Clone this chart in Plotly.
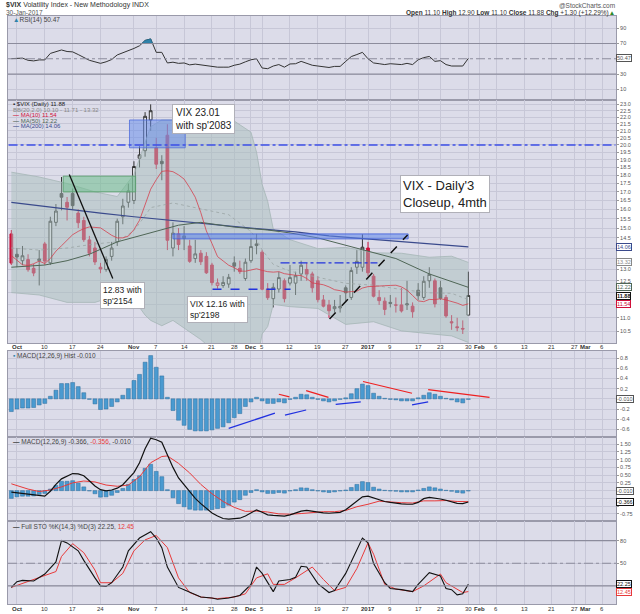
import numpy as np
import pandas as pd
import plotly.graph_objects as go

# trading calendar: x is a trading-day index (weekends / market holidays dropped)
HOLIDAYS = ['2016-11-24', '2016-12-26', '2017-01-02', '2017-01-16', '2017-02-20']
days = pd.bdate_range('2016-09-30', '2017-03-08')
days = days[~days.isin(pd.to_datetime(HOLIDAYS))]

tick_dates = ['2016-10-03', '2016-10-10', '2016-10-17', '2016-10-24', '2016-11-01', '2016-11-07',
              '2016-11-14', '2016-11-21', '2016-11-28', '2016-12-01', '2016-12-05', '2016-12-12',
              '2016-12-19', '2016-12-27', '2017-01-03', '2017-01-09', '2017-01-17', '2017-01-23',
              '2017-01-30', '2017-02-01', '2017-02-06', '2017-02-13', '2017-02-21', '2017-02-27',
              '2017-03-01', '2017-03-06']
tick_text = ['<b>Oct</b>', '10', '17', '24', '<b>Nov</b>', '7', '14', '21', '28', '<b>Dec</b>', '5',
             '12', '19', '27', '<b>2017</b>', '9', '17', '23', '30', '<b>Feb</b>', '6', '13', '21',
             '27', '<b>Mar</b>', '6']

# $VIX daily candles, 30-Sep-2016 .. 30-Jan-2017
opens = [14.70, 13.70, 13.40, 13.45, 13.05, 13.40, 14.20, 13.30, 15.30, 16.90,
         16.40, 16.90, 15.80, 15.40, 14.40, 14.00, 13.10, 13.00, 13.60, 14.30,
         15.60, 16.40, 16.50, 19.10, 19.60, 21.80, 19.80, 18.90, 20.68, 14.00,
         14.70, 14.60, 14.10, 13.50, 13.75, 13.60, 13.20, 12.30, 12.30, 12.36,
         13.30, 13.05, 12.60, 13.40, 14.20, 13.80, 12.15, 11.75, 12.15, 12.50,
         12.40, 12.40, 12.80, 13.00, 12.80, 12.50, 11.70, 11.50, 11.35, 11.38,
         12.20, 11.80, 13.10, 13.10, 14.00, 12.70, 11.80, 11.65, 11.60, 11.50,
         11.50, 11.50, 11.45, 12.10, 11.80, 12.50, 12.50, 12.20, 11.80, 10.85,
         10.66, 10.60, 11.10]
highs = [14.90, 14.00, 14.10, 13.70, 13.25, 13.90, 14.30, 15.60, 16.30, 17.90,
         16.70, 17.20, 16.00, 15.60, 14.60, 14.30, 13.30, 13.60, 14.30, 15.50,
         16.60, 17.50, 18.90, 19.90, 22.40, 23.01, 20.50, 19.30, 21.48, 15.30,
         15.00, 15.10, 14.40, 14.40, 13.90, 13.80, 13.30, 12.60, 12.70, 12.80,
         13.60, 13.40, 13.50, 14.50, 14.70, 13.90, 12.40, 12.40, 12.90, 12.60,
         13.20, 12.90, 13.40, 13.30, 12.90, 12.70, 11.90, 11.70, 11.70, 11.90,
         12.30, 13.10, 13.90, 14.68, 14.30, 12.80, 12.10, 11.80, 11.90, 11.80,
         12.20, 12.50, 11.60, 12.40, 12.70, 13.10, 12.60, 12.50, 11.90, 11.10,
         11.00, 10.90, 12.90]
lows = [13.20, 13.10, 13.20, 12.90, 12.70, 12.30, 13.20, 13.20, 15.10, 15.95,
        15.40, 16.00, 15.00, 14.30, 13.60, 13.20, 12.83, 12.90, 13.40, 14.10,
        15.20, 16.10, 16.30, 18.50, 19.20, 21.00, 18.40, 17.70, 13.90, 13.60,
        13.90, 13.90, 13.30, 13.30, 13.20, 12.80, 12.30, 12.16, 12.20, 12.20,
        12.90, 12.80, 12.50, 13.30, 13.70, 12.10, 11.70, 11.40, 12.00, 11.60,
        12.30, 11.90, 12.50, 12.50, 12.00, 11.60, 11.40, 11.00, 11.20, 11.20,
        11.60, 11.70, 12.80, 12.90, 12.70, 11.80, 11.50, 11.10, 11.40, 11.20,
        11.20, 11.30, 11.00, 11.70, 11.70, 12.20, 11.40, 11.70, 11.00, 10.55,
        10.50, 10.40, 11.10]
closes = [13.29, 13.57, 13.63, 12.99, 12.84, 13.48, 13.38, 15.36, 15.91, 16.69,
          16.12, 16.21, 15.28, 14.41, 13.75, 13.34, 13.02, 13.46, 14.00, 15.36,
          16.19, 17.06, 18.56, 19.32, 22.08, 22.51, 18.71, 18.74, 14.38, 14.74,
          14.17, 14.48, 13.37, 13.72, 13.35, 12.85, 12.42, 12.41, 12.43, 12.65,
          13.15, 12.90, 13.33, 14.07, 14.12, 12.14, 11.79, 12.22, 12.64, 11.75,
          12.64, 12.72, 13.19, 12.79, 12.20, 11.71, 11.45, 11.27, 11.43, 11.44,
          11.99, 12.95, 13.37, 14.04, 12.85, 11.85, 11.67, 11.32, 11.56, 11.49,
          11.26, 11.54, 11.23, 11.87, 12.48, 12.78, 11.54, 11.77, 11.07, 10.81,
          10.63, 10.58, 11.88]
prev_close = 14.02  # 29-Sep close, colours the first candle

# moving averages / bands
ma10 = [13.64, 13.44, 13.21, 13.18, 13.26, 13.38, 13.27, 13.50, 13.85, 14.11,
        14.40, 14.66, 14.83, 14.97, 15.06, 15.05, 15.01, 14.82, 14.63, 14.50,
        14.50, 14.59, 14.92, 15.41, 16.24, 17.16, 17.73, 18.25, 18.29, 18.23,
        18.03, 17.77, 17.25, 16.69, 15.82, 14.85, 14.22, 13.59, 13.39, 13.19,
        13.08, 12.93, 12.92, 12.96, 13.03, 12.96, 12.90, 12.88, 12.90, 12.81,
        12.76, 12.74, 12.73, 12.60, 12.41, 12.37, 12.33, 12.24, 12.12, 12.08,
        12.02, 12.04, 12.06, 12.19, 12.25, 12.26, 12.29, 12.29, 12.30, 12.31,
        12.24, 12.10, 11.88, 11.66, 11.63, 11.72, 11.71, 11.75, 11.70, 11.64,
        11.57, 11.48, 11.54]
ma50_i = [0, 6, 10, 14, 19, 25, 30, 34, 40, 46, 50, 55, 59, 63, 69, 75, 82]
ma50_v = [13.1, 13.2, 13.4, 13.7, 14.3, 14.75, 15.15, 15.3, 15.05, 14.9, 14.75, 14.5, 14.2,
          13.9, 13.5, 12.8, 12.22]
ma200_i = [0, 5, 11, 16, 22, 27, 34, 43, 51, 57, 66, 75, 82]
ma200_v = [16.4, 16.2, 16.0, 15.8, 15.6, 15.45, 15.25, 15.0, 14.8, 14.6, 14.4, 14.2, 14.06]
bb_i = [0, 5, 10, 15, 19, 22, 23, 24, 25, 27, 29, 34, 39, 43, 44, 45, 46, 47, 50, 55, 60, 65,
        70, 75, 79, 82]
bb_up = [18.2, 17.9, 17.5, 17.0, 16.73, 18.05, 19.1, 20.2, 21.3, 21.8, 21.8, 21.8, 22.0, 20.9,
         19.5, 17.45, 16.45, 14.95, 14.41, 13.97, 14.03, 13.77, 13.75, 13.56, 13.61, 13.32]
bb_lo = [12.0, 11.9, 11.6, 11.6, 11.88, 11.7, 11.4, 11.1, 10.9, 10.7, 10.9, 10.2, 9.4, 8.8,
         9.4, 10.4, 10.67, 11.52, 11.43, 11.36, 10.75, 10.85, 10.51, 10.42, 10.33, 10.10]
ma20_i = [0, 5, 10, 15, 19, 22, 24, 25, 29, 34, 39, 43, 44, 45, 46, 47, 50, 55, 60, 65, 70, 75,
          79, 82]
ma20_v = [14.0, 13.9, 14.0, 14.2, 14.30, 14.87, 15.65, 16.10, 16.36, 16.03, 15.71, 14.82, 14.43,
          13.91, 13.56, 13.23, 12.92, 12.66, 12.39, 12.31, 12.13, 11.99, 11.97, 11.71]

# RSI(14)
rsi = [50.2, 50.5, 50.8, 48.0, 47.2, 48.5, 48.5, 57.0, 59.5, 61.5,
       59.5, 59.0, 55.5, 52.0, 48.0, 46.0, 44.0, 46.0, 49.0, 55.0,
       57.5, 60.0, 63.5, 67.0, 74.0, 76.0, 58.4, 58.4, 44.5, 45.5,
       44.0, 44.5, 42.0, 43.0, 42.0, 40.3, 39.2, 39.0, 39.0, 39.0,
       41.5, 43.0, 46.0, 48.7, 50.0, 37.9, 37.0, 40.5, 42.4, 39.0,
       43.2, 43.5, 46.6, 44.5, 41.5, 40.5, 39.7, 38.6, 40.0, 40.0,
       46.6, 52.9, 55.5, 58.4, 50.0, 44.5, 43.5, 42.4, 43.5, 43.2,
       42.4, 44.0, 42.4, 48.7, 51.5, 53.0, 46.6, 47.5, 42.4, 40.5,
       40.2, 40.5, 50.47]

# MACD(12,26,9)
macd_hist = [-0.25, -0.20, -0.18, -0.18, -0.17, -0.12, -0.09, 0.05, 0.17, 0.30,
             0.30, 0.32, 0.24, 0.12, -0.01, -0.10, -0.21, -0.20, -0.15, -0.06,
             0.07, 0.20, 0.36, 0.48, 0.72, 0.85, 0.62, 0.45, 0.03, -0.23,
             -0.42, -0.52, -0.60, -0.63, -0.63, -0.63, -0.61, -0.58, -0.55, -0.47,
             -0.37, -0.29, -0.15, -0.06, 0.03, -0.04, -0.09, -0.09, -0.06, -0.08,
             -0.01, 0.03, 0.09, 0.08, 0.03, -0.01, -0.04, -0.06, -0.04, -0.01,
             0.02, 0.10, 0.20, 0.29, 0.26, 0.11, 0.05, 0.01, -0.01, -0.02,
             -0.04, -0.04, -0.04, 0.02, 0.07, 0.12, 0.09, 0.05, 0.01, -0.02,
             -0.06, -0.08, -0.01]
macd_i = [0, 2, 4, 6, 7, 8, 9, 11, 12, 13, 14, 15, 16, 17, 18, 19, 20, 21, 22, 23, 24, 25, 26,
          27, 28, 29, 30, 31, 32, 33, 34, 35, 36, 37, 38, 39, 40, 41, 42, 43, 44, 45, 46, 47, 48,
          49, 50, 51, 52, 53, 54, 55, 56, 57, 58, 59, 60, 61, 62, 63, 64, 65, 66, 67, 68, 69, 70,
          71, 72, 73, 74, 75, 76, 77, 78, 79, 80, 81, 82]
macd_v = [-0.05, -0.09, -0.12, -0.18, -0.02, 0.20, 0.38, 0.55, 0.54, 0.48, 0.32, 0.15, 0.03,
          -0.01, 0.02, 0.08, 0.19, 0.38, 0.58, 0.90, 1.35, 1.69, 1.64, 1.56, 1.15, 0.75, 0.41,
          0.18, -0.03, -0.25, -0.42, -0.58, -0.72, -0.82, -0.90, -0.92, -0.91, -0.89, -0.82,
          -0.72, -0.62, -0.70, -0.78, -0.80, -0.81, -0.82, -0.78, -0.72, -0.66, -0.64, -0.67,
          -0.70, -0.72, -0.73, -0.72, -0.70, -0.62, -0.48, -0.32, -0.20, -0.18, -0.24, -0.29,
          -0.35, -0.38, -0.41, -0.43, -0.44, -0.44, -0.38, -0.26, -0.22, -0.24, -0.27, -0.31,
          -0.36, -0.41, -0.42, -0.366]
sig_i = [0, 3, 5, 7, 9, 11, 13, 15, 17, 19, 21, 23, 25, 27, 28, 30, 32, 34, 36, 38, 40, 42, 44,
         46, 48, 50, 52, 54, 56, 58, 60, 62, 63, 64, 66, 68, 70, 72, 74, 76, 78, 80, 82]
sig_v = [0.22, 0.05, -0.03, 0.02, 0.12, 0.25, 0.31, 0.28, 0.18, 0.14, 0.18, 0.45, 0.90, 1.10,
         1.12, 0.88, 0.57, 0.20, -0.10, -0.35, -0.54, -0.67, -0.66, -0.69, -0.75, -0.76, -0.74,
         -0.70, -0.68, -0.68, -0.64, -0.52, -0.49, -0.44, -0.34, -0.37, -0.39, -0.40, -0.33,
         -0.33, -0.32, -0.35, -0.356]

# Full STO %K(14,3) %D(3)
stok_i = [0, 1, 2, 4, 6, 8, 9, 10, 12, 13, 15, 16, 17, 18, 20, 21, 23, 25, 26, 27, 28, 30, 31,
          34, 36, 37, 39, 41, 43, 44, 45, 47, 48, 50, 51, 52, 53, 55, 57, 58, 60, 62, 63, 64,
          65, 67, 68, 70, 72, 73, 75, 77, 78, 79, 80, 81, 82]
stok_v = [18, 25.6, 27.3, 26.4, 35.7, 51.7, 80, 77, 66.5, 53.8, 30.6, 20, 19.2, 24.2, 45, 66.5,
          83.4, 91.8, 83.4, 70.7, 45, 18, 15, 5.2, 4, 2.3, 4, 7.3, 22, 45, 36.6, 12.4, 26.4,
          28.5, 31.5, 46, 45, 23, 11.2, 13.7, 36.6, 66.5, 83.4, 77, 49.5, 24.2, 16.6, 15, 12.4,
          22, 37.5, 33.2, 16.6, 15, 8.2, 9.5, 22.25]
stod_i = [0, 3, 5, 8, 9, 11, 13, 15, 16, 18, 20, 22, 24, 26, 28, 30, 32, 34, 37, 40, 42, 44,
          46, 47, 49, 51, 54, 56, 58, 60, 62, 64, 65, 67, 69, 72, 74, 77, 78, 81, 82]
stod_v = [18, 25.6, 30.6, 39, 59, 76, 64, 41, 24.2, 24.2, 36.6, 66.5, 81, 86.8, 70.7, 30.6,
          11.2, 5.2, 3.1, 5.2, 9.5, 30.6, 36, 22, 22, 30.6, 45, 28.5, 13.7, 18, 43, 77, 62, 22,
          15.8, 12.4, 20, 35.7, 24.2, 11.2, 12.45]

main_ticks = [10.5, 11.0, 11.5, 12.0, 12.5, 13.0, 13.5, 14.0, 14.5, 15.0, 15.5, 16.0, 16.5,
              17.0, 17.5, 18.0, 18.5, 19.0, 19.5, 20.0, 20.5, 21.0, 21.5, 22.0, 22.5, 23.0]

# hand-drawn notes on the chart (trading-day index, value)
note_rects = [(9.3, 22.3, 17.0, 17.95, 'rgba(110,190,140,0.55)', 'rgba(90,160,110,0.9)'),
              (21.2, 31.2, 19.8, 21.8, 'rgba(95,135,235,0.5)', 'rgba(80,110,220,0.8)'),
              (29.0, 71.2, 14.45, 14.7, 'rgba(95,135,235,0.55)', 'rgba(70,100,220,0.9)')]
note_lines = [(-0.5, 20.0, 108.4, 20.0, '#3d4fe8', 'dashdot', 1.5),
              (10.4, 18.05, 18.2, 12.6, '#111111', 'solid', 1.3),
              (57.1, 10.95, 71.1, 14.65, '#111111', 'dash', 1.5),
              (48.3, 13.3, 65.7, 13.3, '#2233dd', 'dashdot', 1.3),
              (36.1, 12.14, 50.1, 12.14, '#2233dd', 'dash', 1.3)]
note_text = [(28.8, 23.0, "VIX 23.01<br>with sp'2083", 10),
             (15.9, 12.45, "12.83 with<br>sp'2154", 8.5),
             (31.6, 11.85, "VIX 12.16 with<br>sp'2198", 8.5),
             (69.8, 18.0, "VIX - Daily'3<br>Closeup, 4mth", 13)]
hist_red = [(48.0, 0.09, 49.9, 0.04), (52.9, 0.16, 56.9, 0.03), (63.1, 0.34, 71.9, 0.11),
            (74.8, 0.18, 85.8, 0.03)]
hist_blue = [(39.0, -0.58, 47.3, -0.28), (49.1, -0.32, 52.9, -0.22), (58.2, -0.11, 62.7, -0.06),
             (71.9, -0.12, 74.8, -0.06)]

# ------------------------------------------------------------------ styles
BG = '#dcdce9'
GRID = '#c7c7d7'
BORDER = '#9a9aaa'
RED = '#d0103a'
BLUE_BAR = '#4a9ad0'
W, H = 640, 614
ML, MR, MT, MB = 7, 20, 16, 10
PH = H - MT - MB
PW = W - ML - MR


def py(ypx):
    return (H - MB - ypx) / PH


def px(xpx):
    return (xpx - ML) / PW


idx = list(range(len(closes)))
N = len(days)
xr = [-0.6, N - 0.5]
tickvals = [days.get_loc(pd.Timestamp(d)) for d in tick_dates]

fig = go.Figure()

# ---- RSI panel
fig.add_trace(go.Scatter(x=idx, y=rsi, mode='lines', line=dict(color='#333', width=1),
                         xaxis='x', yaxis='y', hoverinfo='skip'))
# fill where RSI is above 70
fx, fy = [], []
for k in range(len(rsi) - 1):
    a, b = rsi[k], rsi[k + 1]
    if a >= 70:
        fx.append(idx[k]); fy.append(a)
    if (a - 70) * (b - 70) < 0:
        t = (70 - a) / (b - a)
        fx.append(idx[k] + t); fy.append(70)
if fx:
    fig.add_trace(go.Scatter(x=fx + [fx[0]], y=fy + [fy[0]], fill='toself', mode='lines',
                             line=dict(color='#1f6f95', width=0.8), fillcolor='#2e82aa',
                             xaxis='x', yaxis='y', hoverinfo='skip'))

# ---- main price panel
fig.add_trace(go.Scatter(x=bb_i, y=bb_lo, mode='lines', line=dict(color='#a6b6b6', width=0.8),
                         xaxis='x2', yaxis='y2', hoverinfo='skip'))
fig.add_trace(go.Scatter(x=bb_i, y=bb_up, mode='lines', line=dict(color='#a6b6b6', width=0.8),
                         fill='tonexty', fillcolor='rgba(168,190,188,0.5)',
                         xaxis='x2', yaxis='y2', hoverinfo='skip'))
fig.add_trace(go.Scatter(x=ma20_i, y=ma20_v, mode='lines',
                         line=dict(color='#9aa5a5', width=0.8, dash='dot'),
                         xaxis='x2', yaxis='y2', hoverinfo='skip'))

prev = [prev_close] + closes[:-1]
up = [i for i in idx if closes[i] >= prev[i]]
dn = [i for i in idx if closes[i] < prev[i]]
for grp, col in ((up, '#333333'), (dn, RED)):
    fig.add_trace(go.Candlestick(
        x=grp, open=[opens[i] for i in grp], high=[highs[i] for i in grp],
        low=[lows[i] for i in grp], close=[closes[i] for i in grp],
        increasing=dict(line=dict(color=col, width=1), fillcolor='rgba(242,242,248,0.9)'),
        decreasing=dict(line=dict(color=col, width=1), fillcolor=col),
        whiskerwidth=0, xaxis='x2', yaxis='y2', hoverinfo='skip'))

fig.add_trace(go.Scatter(x=ma200_i, y=ma200_v, mode='lines', line=dict(color='#3a4a8c', width=1.2),
                         xaxis='x2', yaxis='y2', hoverinfo='skip'))
fig.add_trace(go.Scatter(x=ma50_i, y=ma50_v, mode='lines', line=dict(color='#4f6656', width=1),
                         xaxis='x2', yaxis='y2', hoverinfo='skip'))
fig.add_trace(go.Scatter(x=idx, y=ma10, mode='lines', line=dict(color='#d4404e', width=0.8),
                         xaxis='x2', yaxis='y2', hoverinfo='skip'))

for i0, i1, v0, v1, fc, lc in note_rects:
    fig.add_trace(go.Scatter(x=[i0, i1, i1, i0, i0], y=[v0, v0, v1, v1, v0], mode='lines',
                             fill='toself', fillcolor=fc, line=dict(color=lc, width=1),
                             xaxis='x2', yaxis='y2', hoverinfo='skip'))
for x0, v0, x1, v1, col, dash, w in note_lines:
    fig.add_trace(go.Scatter(x=[x0, x1], y=[v0, v1], mode='lines',
                             line=dict(color=col, width=w, dash=dash),
                             xaxis='x2', yaxis='y2', hoverinfo='skip'))

# ---- MACD histogram panel
fig.add_trace(go.Bar(x=idx, y=macd_hist, width=0.7, xaxis='x3', yaxis='y3',
                     marker=dict(color=BLUE_BAR, line=dict(color='#2a6c9c', width=0.5)),
                     hoverinfo='skip'))
for lines, col in ((hist_red, '#ee2020'), (hist_blue, '#2030e0')):
    for x0, v0, x1, v1 in lines:
        fig.add_trace(go.Scatter(x=[x0, x1], y=[v0, v1], mode='lines',
                                 line=dict(color=col, width=1.2),
                                 xaxis='x3', yaxis='y3', hoverinfo='skip'))

# ---- MACD panel
fig.add_trace(go.Bar(x=idx, y=macd_hist, width=0.7, xaxis='x4', yaxis='y4',
                     marker=dict(color=BLUE_BAR, line=dict(color='#2a6c9c', width=0.5)),
                     hoverinfo='skip'))
fig.add_trace(go.Scatter(x=sig_i, y=sig_v, mode='lines', line=dict(color='#e83a3a', width=1),
                         xaxis='x4', yaxis='y4', hoverinfo='skip'))
fig.add_trace(go.Scatter(x=macd_i, y=macd_v, mode='lines', line=dict(color='#111', width=1.2),
                         xaxis='x4', yaxis='y4', hoverinfo='skip'))

# ---- Full stochastics panel
fig.add_trace(go.Scatter(x=stod_i, y=stod_v, mode='lines', line=dict(color='#e83a3a', width=1),
                         xaxis='x5', yaxis='y5', hoverinfo='skip'))
fig.add_trace(go.Scatter(x=stok_i, y=stok_v, mode='lines', line=dict(color='#111', width=1.1),
                         xaxis='x5', yaxis='y5', hoverinfo='skip'))

# ------------------------------------------------------------------ axes
dom = {
    'y': [py(100), 1.0],
    'y2': [py(343), py(100)],
    'y3': [py(437), py(351)],
    'y4': [py(521), py(437)],
    'y5': [0.0, py(521)],
}


def xax(anchor):
    d = dict(domain=[0, 1], anchor=anchor, range=xr, tickvals=tickvals,
             showticklabels=False, showgrid=True, gridcolor=GRID, gridwidth=1, zeroline=False,
             showline=True, linecolor=BORDER, mirror=True, ticks='',
             rangeslider=dict(visible=False))
    if anchor != 'y':
        d['matches'] = 'x'
    return d


def yax(anchor, rng, tv, tt, **kw):
    return dict(domain=dom[anchor], anchor=anchor.replace('y', 'x'), range=rng, side='right',
                tickvals=tv, ticktext=tt, showgrid=True, gridcolor=GRID, gridwidth=1,
                zeroline=False, showline=True, linecolor=BORDER, mirror=True, ticks='outside',
                ticklen=2, tickcolor='#999', tickfont=dict(size=5.5, color='#555'), **kw)


hide_main = {14.0, 13.5, 12.0, 11.5}
main_tt = ['' if v in hide_main else f'{v:.1f}' for v in main_ticks]

fig.update_layout(
    xaxis=xax('y'),
    xaxis2=xax('y2'),
    xaxis3=xax('y3'),
    xaxis4=xax('y4'),
    xaxis5=xax('y5'),
    yaxis=yax('y', [-4, 106], [10, 30, 70, 90], ['10', '30', '70', '90']),
    yaxis2=yax('y2', [np.log10(10.08), np.log10(23.36)], main_ticks, main_tt, type='log'),
    yaxis3=yax('y3', [-0.75, 0.94], [-0.6, -0.4, -0.2, 0, 0.2, 0.4, 0.6, 0.8],
               ['-0.6', '-0.4', '-0.2', '', '0.2', '0.4', '0.6', '0.8']),
    yaxis4=yax('y4', [-0.98, 1.73], [-0.75, -0.5, -0.25, 0, 0.25, 0.5, 0.75, 1.0, 1.25, 1.5],
               ['-0.75', '', '', '', '0.25', '0.50', '0.75', '1.00', '1.25', '1.50']),
    yaxis5=yax('y5', [-4, 106], [20, 50, 80], ['', '50', '80']),
)

shapes = []
for ref, lvls in (('y', (70, 30)), ('y5', (80, 20))):
    for lv in lvls:
        shapes.append(dict(type='line', xref='paper', x0=0, x1=1, yref=ref, y0=lv, y1=lv,
                           line=dict(color='#8c8c9c', width=1.2)))
    shapes.append(dict(type='line', xref='paper', x0=0, x1=1, yref=ref, y0=50, y1=50,
                       line=dict(color='#8c8c9c', width=1, dash='dashdot')))

# ------------------------------------------------------------------ text
ann = []


def txt(x, y, s, size=7, color='#222', xanchor='left', yanchor='middle', **kw):
    ann.append(dict(x=x, y=y, text=s, xref=kw.pop('xref', 'paper'), yref=kw.pop('yref', 'paper'),
                    xanchor=xanchor, yanchor=yanchor, showarrow=False,
                    font=dict(size=size, color=color, family='Arial'), **kw))


# date labels under the price panel and under the bottom panel
for tv, tt in zip(tickvals, tick_text):
    for yy in (346.5, 608.5):
        txt(tv, py(yy), tt, size=6, color='#333', xanchor='center', xref='x2')

txt(px(3), py(5), '<b>$VIX</b> Volatility Index - New Methodology INDX', size=7, color='#333')
txt(px(3), py(12.5), '30-Jan-2017', size=6.5, color='#555')
txt(px(621), py(5), '@StockCharts.com', size=6.5, color='#555', xanchor='right')
txt(px(621), py(12.5), '<b>Open</b> 11.10 <b>High</b> 12.90 <b>Low</b> 11.10 <b>Close</b> 11.88 '
    '<b>Chg</b> +1.30 (+12.29%)<span style="color:#2a8a2a">▲</span>', size=6.5, color='#333',
    xanchor='right')

txt(px(10), py(20), '<span style="color:#2e82aa">▲</span>RSI(14) 50.47', size=6.5, color='#444')
txt(px(10), py(104), '<b>▪</b> $VIX (Daily) 11.88', size=6, color='#222')
txt(px(10), py(109.5), 'BB(20,2.0) 10.10 - 11.71 - 13.32', size=6, color='#888')
txt(px(10), py(115), '<b>—</b> MA(10) 11.54', size=6, color=RED)
txt(px(10), py(120.5), '<b>—</b> MA(50) 12.22', size=6, color='#4f6656')
txt(px(10), py(126), '<b>—</b> MA(200) 14.06', size=6, color='#3a4a8c')
txt(px(10), py(356), '<span style="color:#2e82aa">▪</span> MACD(12,26,9) Hist -0.010', size=6.5,
    color='#444')
txt(px(10), py(442), '<b>—</b> MACD(12,26,9) -0.366, <span style="color:#e83a3a">-0.356</span>, '
    '-0.010', size=6.5, color='#444')
txt(px(10), py(527), '<b>—</b> Full STO %K(14,3) %D(3) 22.25, '
    '<span style="color:#e83a3a">12.45</span>', size=6.5, color='#444')

for i, v, s, sz in note_text:
    txt(i, np.log10(v), s, size=sz, color='#222', yanchor='top', xref='x2', yref='y2',
        align='left', bgcolor='white', bordercolor='#b0b0b8', borderwidth=1, borderpad=2)


def box(yref, yv, s, col, bold=False):
    ann.append(dict(x=1, y=yv, xref='paper', yref=yref, xanchor='left', yanchor='middle',
                    xshift=0, showarrow=False, text=f'<b>{s}</b>' if bold else s,
                    font=dict(size=5.5, color=col, family='Arial'), bgcolor='white',
                    bordercolor=col, borderwidth=1, borderpad=0))


box('y', 50.47, '50.47', '#555')
box('y2', np.log10(14.06), '14.06', '#3a4a8c')
box('y2', np.log10(13.32), '13.32', '#888')
box('y2', np.log10(12.22), '12.22', '#4f6656')
box('y2', np.log10(11.54), '11.54', RED)
box('y2', np.log10(11.88), '11.88', '#111', bold=True)
box('y3', -0.01, '-0.010', '#555')
box('y4', -0.01, '-0.010', '#555')
box('y4', -0.366, '-0.366', '#111')
box('y5', 12.45, '12.45', '#e83a3a')
box('y5', 22.25, '22.25', '#111')

fig.update_layout(
    width=W, height=H, margin=dict(l=ML, r=MR, t=MT, b=MB),
    paper_bgcolor='white', plot_bgcolor=BG, showlegend=False,
    font=dict(family='Arial', size=7, color='#333'),
    shapes=shapes, annotations=ann, bargap=0.3, hovermode=False,
)

# the page's default 8px body margin would push the 640x614 figure off the window
fig.write_html("out.html", config={'displayModeBar': False},
               post_script="document.body.style.margin='0px';")
